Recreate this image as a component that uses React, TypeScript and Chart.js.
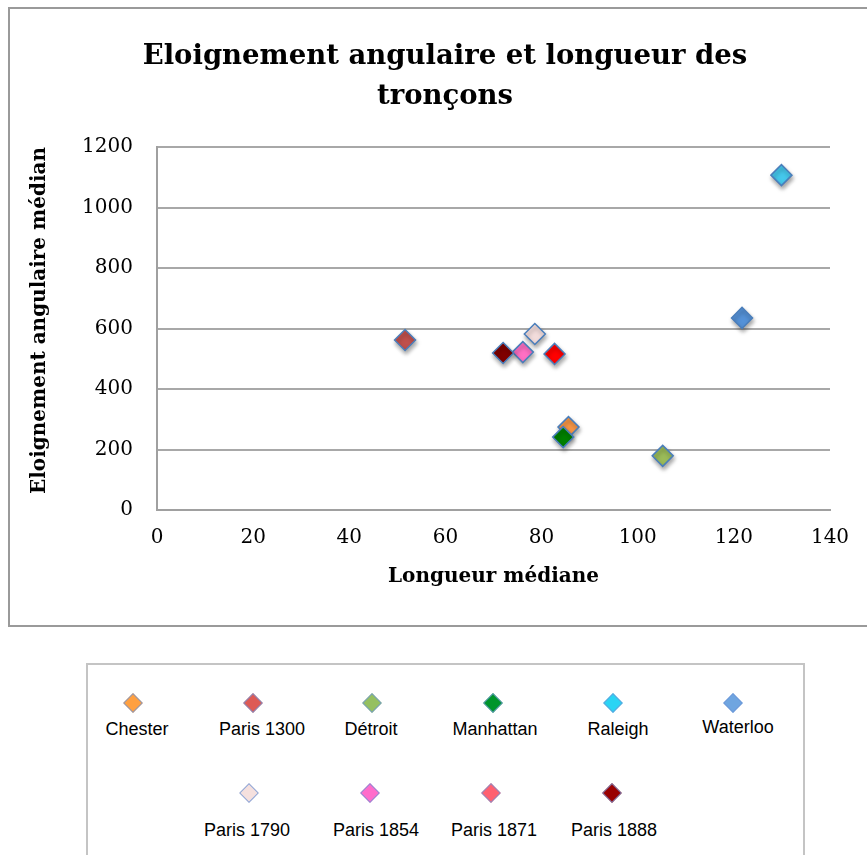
import React, { useEffect, useRef } from "react";
import { Chart, registerables } from "chart.js";

Chart.register(...registerables);

const cities = ["Chester", "Paris 1300", "Détroit", "Manhattan", "Raleigh", "Waterloo", "Paris 1790", "Paris 1854", "Paris 1871", "Paris 1888"];
const longueur = [85.6, 51.6, 105.2, 84.5, 129.9, 121.7, 78.6, 76.1, 82.7, 72.0];
const eloignement = [274, 562, 179, 241, 1107, 635, 582, 522, 516, 519];
const fillColors = ["#f79646", "#c0504d", "#9bbb59", "#008000", "#45c8ec", "#5592d8", "#f2dcdb", "#ff70c4", "#ff0000", "#7f0000"];
const legendColors = ["#ffa040", "#dd5a55", "#95c060", "#00952a", "#2ad4f4", "#6fa5e0", "#f5e0de", "#ff6ccb", "#ff6070", "#990000"];
const titleLines = ["Eloignement angulaire et longueur des", "tronçons"];
const xTitle = "Longueur médiane";
const yTitle = "Eloignement angulaire médian";

// legend layout (page pixels)
const legendMarkerPos = [[133, 703], [253, 703], [372, 703], [493, 703], [613, 703], [733, 703], [249, 793], [370, 793], [491, 793], [612, 793]];
const legendLabelPos = [[137, 729], [262, 729], [371, 729], [495, 729], [618, 729], [738, 727], [247, 830], [376, 830], [494, 830], [614, 830]];

const SERIF = "'DejaVu Serif', serif";

export default function App() {
  const ref = useRef<HTMLCanvasElement | null>(null);

  useEffect(() => {
    const shadow = {
      id: "markerShadow",
      beforeDatasetsDraw(chart: any) {
        const c = chart.ctx;
        c.save();
        c.shadowColor = "rgba(0,0,0,0.35)";
        c.shadowBlur = 4;
        c.shadowOffsetX = 1;
        c.shadowOffsetY = 3;
      },
      afterDatasetsDraw(chart: any) {
        chart.ctx.restore();
      },
    };
    const tickFont = { family: SERIF, size: 20 };
    const axisTitleFont = { family: SERIF, size: 20, weight: "bold" as const };
    const plain = (v: any) => String(v);
    const chart = new Chart(ref.current as HTMLCanvasElement, {
      type: "scatter",
      data: {
        datasets: cities.map((name, i) => ({
          label: name,
          data: [{ x: longueur[i], y: eloignement[i] }],
          backgroundColor: fillColors[i],
          borderColor: "#4a7ebb",
          borderWidth: 1.5,
          pointStyle: "rectRot",
          pointRadius: 10.5,
          pointHoverRadius: 10.5,
          order: -i,
        })),
      },
      options: {
        animation: false,
        responsive: false,
        layout: { padding: { top: 0, left: 51, right: 59, bottom: 34 } },
        plugins: {
          legend: { display: false },
          tooltip: { enabled: false },
          title: {
            display: true,
            text: titleLines,
            color: "#000",
            font: { family: SERIF, size: 27.5, weight: "bold", lineHeight: 40 / 27.5 },
            padding: { top: 29, bottom: 30 },
          },
        },
        scales: {
          x: {
            type: "linear",
            min: 0,
            max: 140,
            ticks: { stepSize: 20, padding: 16, color: "#000", font: tickFont, callback: plain },
            grid: { display: false, drawTicks: false },
            border: { display: true, color: "#a0a0a0", width: 2 },
            title: { display: true, text: xTitle, color: "#000", font: axisTitleFont, padding: { top: 18, bottom: 4 } },
            afterFit: (s: any) => { s.height = 83; },
          },
          y: {
            type: "linear",
            min: 0,
            max: 1200,
            ticks: { stepSize: 200, padding: 24, color: "#000", font: tickFont, callback: plain },
            grid: { color: "#a8a8a8", lineWidth: 2, drawTicks: false },
            border: { display: true, color: "#a0a0a0", width: 2 },
            title: { display: true, text: yTitle, color: "#000", font: axisTitleFont, align: "end", padding: { top: -32, bottom: 4 } },
            afterFit: (s: any) => { s.width = 97; },
          },
        },
      },
      plugins: [shadow],
    });
    return () => chart.destroy();
  }, []);

  return (
    <div style={{ position: "fixed", left: 0, top: 0, width: 867, height: 855, overflow: "hidden", background: "#fff" }}>
      <div style={{ position: "absolute", left: 8, top: 7, width: 900, height: 620, boxSizing: "border-box", border: "2px solid #9a9a9a" }} />
      <canvas ref={ref} width={880} height={619} style={{ position: "absolute", left: 9, top: 8, width: 880, height: 619 }} />
      <div style={{ position: "absolute", left: 86, top: 663, width: 719, height: 230, boxSizing: "border-box", border: "2px solid #c4c4c4" }} />
      {cities.map((name, i) => (
        <React.Fragment key={name}>
          <div
            style={{
              position: "absolute",
              left: legendMarkerPos[i][0] - 7,
              top: legendMarkerPos[i][1] - 7,
              width: 14,
              height: 14,
              boxSizing: "border-box",
              background: legendColors[i],
              border: "1px solid rgba(110,150,215,0.75)",
              transform: "rotate(45deg)",
            }}
          />
          <div
            style={{
              position: "absolute",
              left: legendLabelPos[i][0] - 80,
              top: legendLabelPos[i][1] - 11,
              width: 160,
              height: 22,
              lineHeight: "22px",
              textAlign: "center",
              fontFamily: "'Liberation Sans', Arial, sans-serif",
              fontSize: 18,
              color: "#000",
              whiteSpace: "nowrap",
            }}
          >
            {name}
          </div>
        </React.Fragment>
      ))}
    </div>
  );
}
